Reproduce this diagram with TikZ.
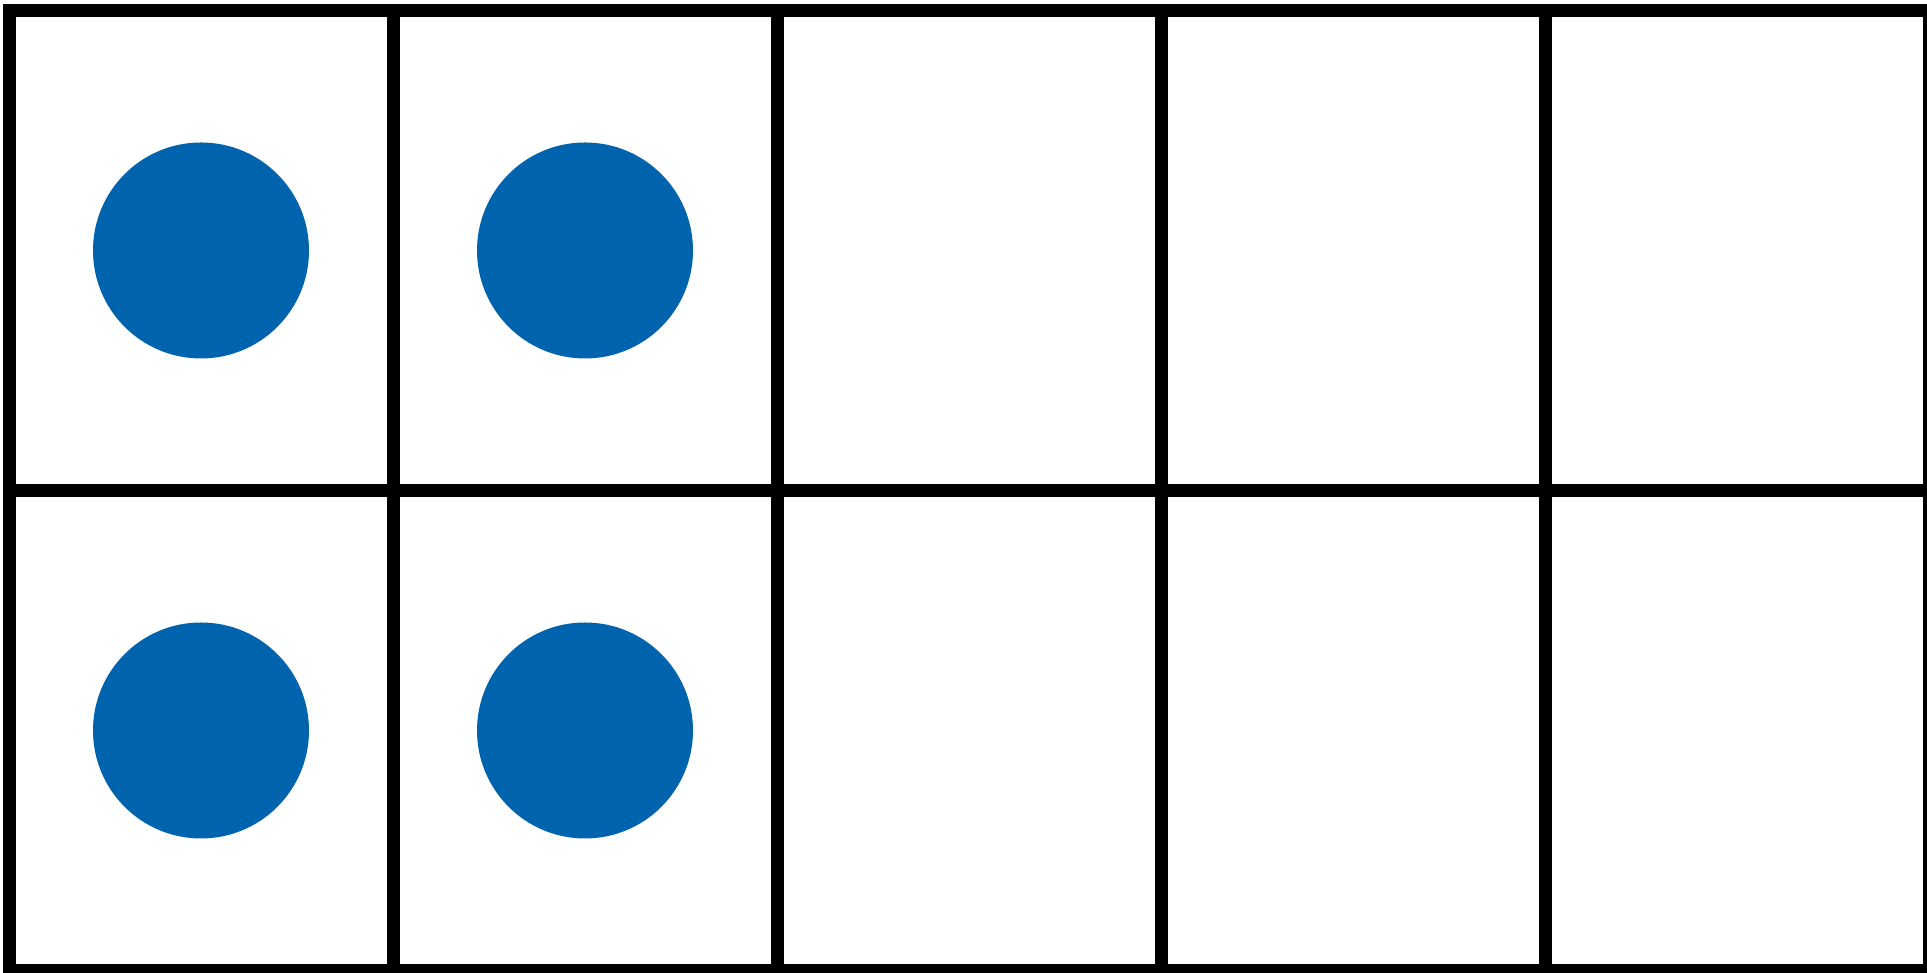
\documentclass[tikz,border=0pt]{standalone}
\usepackage{tikz}
\definecolor{counterblue}{RGB}{0,99,174}
\begin{document}
\begin{tikzpicture}[x=0.1mm,y=0.1mm]
  \useasboundingbox (0,0) rectangle (1927,973);
  \clip (0,0) rectangle (1927,973);
  % frame: two rows of five cells
  \foreach \y in {2.5,482.5,962.5} {
    \draw[line width=1.3mm] (3,\y) -- (1935,\y);
  }
  \foreach \k in {0,...,5} {
    \draw[line width=1.3mm] (9.5+384*\k,2.5) -- (9.5+384*\k,962.5);
  }
  % counters
  \foreach \c in {0,1} {
    \foreach \y in {242.5,722.5} {
      \fill[counterblue] (201+384*\c,\y) circle (10.8mm);
    }
  }
\end{tikzpicture}
\end{document}
